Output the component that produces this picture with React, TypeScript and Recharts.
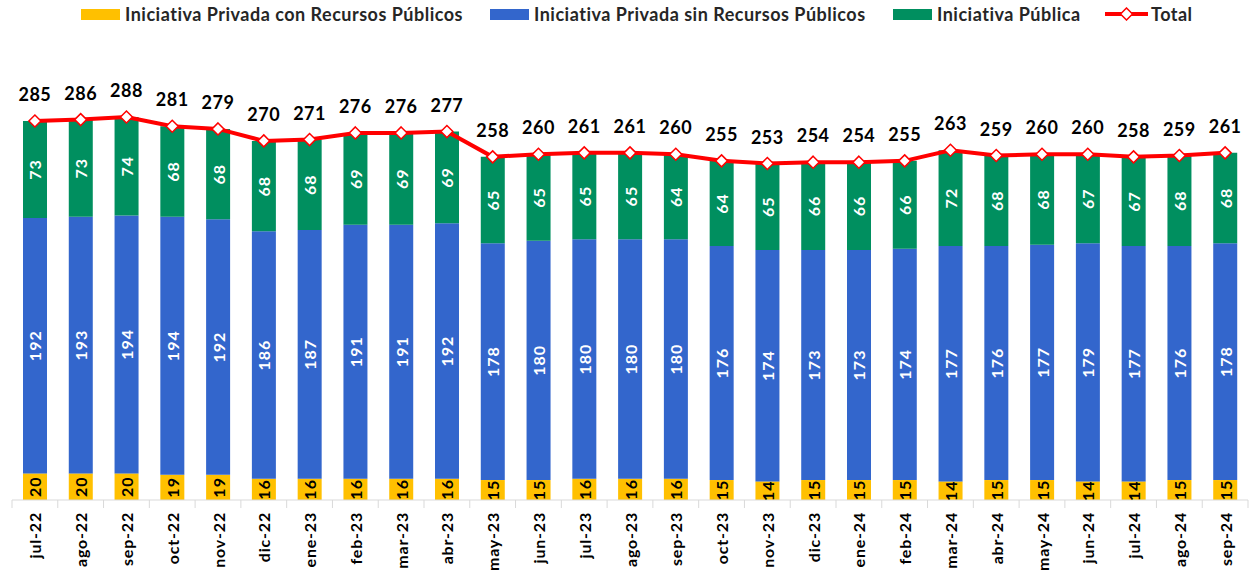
import React from 'react';
import { ComposedChart, Bar, Line, XAxis, YAxis, LabelList } from 'recharts';

const MESES = [
  'jul-22', 'ago-22', 'sep-22', 'oct-22', 'nov-22', 'dic-22', 'ene-23', 'feb-23', 'mar-23', 'abr-23',
  'may-23', 'jun-23', 'jul-23', 'ago-23', 'sep-23', 'oct-23', 'nov-23', 'dic-23', 'ene-24', 'feb-24',
  'mar-24', 'abr-24', 'may-24', 'jun-24', 'jul-24', 'ago-24', 'sep-24',
];
const CON_RECURSOS = [20, 20, 20, 19, 19, 16, 16, 16, 16, 16, 15, 15, 16, 16, 16, 15, 14, 15, 15, 15, 14, 15, 15, 14, 14, 15, 15];
const SIN_RECURSOS = [192, 193, 194, 194, 192, 186, 187, 191, 191, 192, 178, 180, 180, 180, 180, 176, 174, 173, 173, 174, 177, 176, 177, 179, 177, 176, 178];
const PUBLICA = [73, 73, 74, 68, 68, 68, 68, 69, 69, 69, 65, 65, 65, 65, 64, 64, 65, 66, 66, 66, 72, 68, 68, 67, 67, 68, 68];
const TOTAL = [285, 286, 288, 281, 279, 270, 271, 276, 276, 277, 258, 260, 261, 261, 260, 255, 253, 254, 254, 255, 263, 259, 260, 260, 258, 259, 261];

const AMARILLO = '#FFC000';
const AZUL = '#3366CC';
const VERDE = '#008F5F';
const ROJO = '#FF0000';
const FUENTE = 'Lato, Calibri, sans-serif';

const W = 1252;
const H = 575;
const M_LEFT = 12;
const M_RIGHT = 4;
const BANDA = (W - M_LEFT - M_RIGHT) / MESES.length;

const data = MESES.map((mes, i) => ({
  mes,
  con: CON_RECURSOS[i],
  sin: SIN_RECURSOS[i],
  pub: PUBLICA[i],
  total: TOTAL[i],
}));

const etiquetaVertical = (color: string) => (props: any) => {
  const { x, y, width, height, value } = props;
  const cx = x + width / 2;
  const cy = y + height / 2;
  return (
    <text
      x={cx}
      y={cy}
      transform={`rotate(-90, ${cx}, ${cy})`}
      textAnchor="middle"
      dominantBaseline="central"
      fill={color}
      fontFamily={FUENTE}
      fontWeight={700}
      fontSize={16}
      letterSpacing={1}
    >
      {value}
    </text>
  );
};

const Rombo = (props: any) => {
  const { cx, cy } = props;
  if (cx == null || cy == null) return null;
  const r = 6;
  return (
    <path
      d={`M${cx},${cy - r} L${cx + r},${cy} L${cx},${cy + r} L${cx - r},${cy} Z`}
      fill="#fff"
      stroke={ROJO}
      strokeWidth={1.5}
    />
  );
};

const TickMes = (props: any) => {
  const { x, y, payload, index } = props;
  return (
    <g>
      <line x1={x - BANDA / 2} y1={y - 8} x2={x - BANDA / 2} y2={y} stroke="#d9d9d9" />
      {index === MESES.length - 1 && (
        <line x1={x + BANDA / 2} y1={y - 8} x2={x + BANDA / 2} y2={y} stroke="#d9d9d9" />
      )}
      <text
        x={x}
        y={y + 4}
        transform={`rotate(-90, ${x}, ${y + 4})`}
        textAnchor="end"
        dominantBaseline="central"
        fill="#000"
        fontFamily={FUENTE}
        fontWeight={700}
        fontSize={16}
        letterSpacing={0.8}
      >
        {payload.value}
      </text>
    </g>
  );
};

const LEYENDA = [
  { nombre: 'Iniciativa Privada con Recursos Públicos', color: AMARILLO, x: 81, tipo: 'barra' },
  { nombre: 'Iniciativa Privada sin Recursos Públicos', color: AZUL, x: 490, tipo: 'barra' },
  { nombre: 'Iniciativa Pública', color: VERDE, x: 893, tipo: 'barra' },
  { nombre: 'Total', color: ROJO, x: 1105, tipo: 'linea' },
];

const Leyenda = () => (
  <div style={{ position: 'absolute', left: 0, top: 0, width: W, height: 32 }}>
    {LEYENDA.map((item) => (
      <div
        key={item.nombre}
        style={{
          position: 'absolute',
          left: item.x,
          top: 3,
          display: 'flex',
          alignItems: 'center',
          fontFamily: FUENTE,
          fontWeight: 700,
          fontSize: 18,
          letterSpacing: 0.5,
          color: '#262626',
          whiteSpace: 'nowrap',
        }}
      >
        {item.tipo === 'barra' ? (
          <span style={{ display: 'inline-block', width: 39, height: 11, background: item.color, marginRight: 5 }} />
        ) : (
          <svg width={43} height={14} style={{ marginRight: 3 }}>
            <line x1={0} y1={7} x2={43} y2={7} stroke={ROJO} strokeWidth={4} />
            <path d="M21.5,1 L27.5,7 L21.5,13 L15.5,7 Z" fill="#fff" stroke={ROJO} strokeWidth={1.5} />
          </svg>
        )}
        <span>{item.nombre}</span>
      </div>
    ))}
  </div>
);

export default function App() {
  return (
    <div style={{ position: 'absolute', left: 0, top: 0, width: W, height: H, background: '#fff' }}>
      <Leyenda />
      <ComposedChart
        width={W}
        height={H}
        data={data}
        margin={{ top: 101, right: M_RIGHT, left: M_LEFT, bottom: 0 }}
      >
        <XAxis
          dataKey="mes"
          interval={0}
          height={75}
          tickLine={false}
          axisLine={{ stroke: '#d9d9d9' }}
          tick={<TickMes />}
        />
        <YAxis hide domain={[0, 300]} />
        <Bar dataKey="con" stackId="a" fill={AMARILLO} barSize={24} isAnimationActive={false}>
          <LabelList dataKey="con" content={etiquetaVertical('#000')} />
        </Bar>
        <Bar dataKey="sin" stackId="a" fill={AZUL} barSize={24} isAnimationActive={false}>
          <LabelList dataKey="sin" content={etiquetaVertical('#fff')} />
        </Bar>
        <Bar dataKey="pub" stackId="a" fill={VERDE} barSize={24} isAnimationActive={false}>
          <LabelList dataKey="pub" content={etiquetaVertical('#fff')} />
        </Bar>
        <Line
          dataKey="total"
          stroke={ROJO}
          strokeWidth={4}
          dot={<Rombo />}
          activeDot={false}
          isAnimationActive={false}
        >
          <LabelList
            dataKey="total"
            position="top"
            offset={20}
            fill="#000"
            fontFamily={FUENTE}
            fontWeight={700}
            fontSize={18}
            letterSpacing={0.5}
          />
        </Line>
      </ComposedChart>
    </div>
  );
}
